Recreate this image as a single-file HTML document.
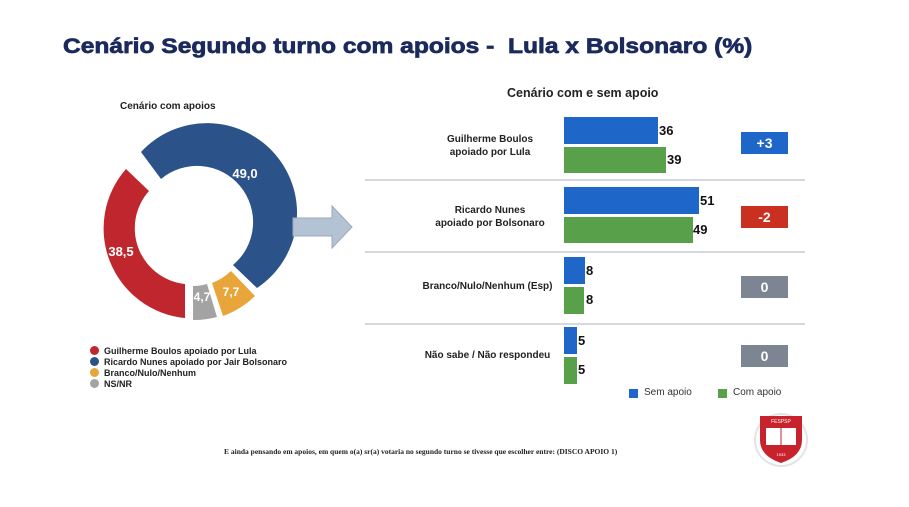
<!DOCTYPE html>
<html><head><meta charset="utf-8"><style>
body{margin:0;width:909px;height:507px;background:#fff;position:relative;overflow:hidden;font-family:"Liberation Sans",sans-serif}
.a{position:absolute}
.lab{position:absolute;font-size:10px;font-weight:bold;color:#222;text-align:center;line-height:13px}
.v{position:absolute;font-size:13px;font-weight:bold;color:#111}
.badge{position:absolute;left:741px;width:47px;height:22px;color:#fff;font-weight:bold;font-size:14px;text-align:center;line-height:22px}
.leg{position:absolute;left:90px;font-size:9px;font-weight:bold;color:#222}
.leg i{display:inline-block;width:9px;height:9px;border-radius:50%;vertical-align:-1px;margin-right:5px}
</style></head><body>
<div class="a" style="left:63px;top:35px;font-size:21px;font-weight:bold;color:#1b2a5c;-webkit-text-stroke:0.7px #1b2a5c;transform:scaleX(1.17);transform-origin:left;white-space:nowrap">Cenário Segundo turno com apoios -&nbsp; Lula x Bolsonaro (%)</div>
<div class="a" style="left:120px;top:101px;font-size:10px;font-weight:bold;color:#222">Cenário com apoios</div>
<svg class="a" style="left:0;top:0" width="909" height="507">
<g transform="translate(191,228)">
<path d="M-3,90 A90,90 0 0 1 -62,-59 L-39,-37 A56,56 0 0 0 -3,56Z" fill="#c0262d" transform="translate(-3,0)"/>
<path d="M-52,-73 A90,90 0 1 1 64,63 L40,40 A56,56 0 1 0 -32,-46Z" fill="#2b5289" transform="translate(2,-3)"/>
<path d="M62,66 A90,90 0 0 1 30,86 L19,53 A56,56 0 0 0 38,41Z" fill="#e8a63a" transform="translate(2,2)"/>
<path d="M26,87 A90,90 0 0 1 2,90 L2,56 A56,56 0 0 0 16,54Z" fill="#a3a3a3" transform="translate(0,2)"/>
<text x="54" y="-50" fill="#fff" font-size="13" font-weight="bold" text-anchor="middle">49,0</text>
<text x="-70" y="28" fill="#fff" font-size="13" font-weight="bold" text-anchor="middle">38,5</text>
<text x="40" y="68" fill="#fff" font-size="12" font-weight="bold" text-anchor="middle">7,7</text>
<text x="11" y="73" fill="#fff" font-size="12" font-weight="bold" text-anchor="middle">4,7</text>
</g>
<path d="M293,218 H332 V206 L352,227 L332,248 V236 H293Z" fill="#b4c3d3" stroke="#98a9bb"/>
<g stroke="#c8ccd2" stroke-width="1.5"><line x1="365" y1="180" x2="805" y2="180"/><line x1="365" y1="252" x2="805" y2="252"/><line x1="365" y1="324" x2="805" y2="324"/></g>
<g fill="#1f66c9"><rect x="564" y="117" width="94" height="27"/><rect x="564" y="187" width="135" height="27"/><rect x="564" y="257" width="21" height="27"/><rect x="564" y="327" width="13" height="27"/><rect x="629" y="389" width="9" height="9"/></g>
<g fill="#58a04a"><rect x="564" y="147" width="102" height="26"/><rect x="564" y="217" width="129" height="26"/><rect x="564" y="287" width="20" height="27"/><rect x="564" y="357" width="13" height="27"/><rect x="718" y="389" width="9" height="9"/></g>
</svg>
<div class="a" style="left:507px;top:86px;font-size:12.5px;font-weight:bold;color:#222">Cenário com e sem apoio</div>
<div class="lab" style="left:420px;top:133px;width:140px">Guilherme Boulos<br>apoiado por Lula</div>
<div class="lab" style="left:420px;top:204px;width:140px">Ricardo Nunes<br>apoiado por Bolsonaro</div>
<div class="lab" style="left:415px;top:280px;width:145px">Branco/Nulo/Nenhum (Esp)</div>
<div class="lab" style="left:415px;top:349px;width:145px">Não sabe / Não respondeu</div>
<div class="v" style="left:659px;top:123px">36</div><div class="v" style="left:667px;top:152px">39</div>
<div class="v" style="left:700px;top:193px">51</div><div class="v" style="left:693px;top:222px">49</div>
<div class="v" style="left:586px;top:263px">8</div><div class="v" style="left:586px;top:292px">8</div>
<div class="v" style="left:578px;top:333px">5</div><div class="v" style="left:578px;top:362px">5</div>
<div class="badge" style="top:132px;background:#1f66c9">+3</div>
<div class="badge" style="top:206px;background:#c9301f">-2</div>
<div class="badge" style="top:276px;background:#7c8591">0</div>
<div class="badge" style="top:345px;background:#7c8591">0</div>
<div class="a" style="left:644px;top:387px;font-size:10px;color:#333">Sem apoio</div>
<div class="a" style="left:733px;top:387px;font-size:10px;color:#333">Com apoio</div>
<div class="leg" style="top:346px"><i style="background:#c0262d"></i>Guilherme Boulos apoiado por Lula</div>
<div class="leg" style="top:357px"><i style="background:#2b5289"></i>Ricardo Nunes apoiado por Jair Bolsonaro</div>
<div class="leg" style="top:368px"><i style="background:#e8a63a"></i>Branco/Nulo/Nenhum</div>
<div class="leg" style="top:379px"><i style="background:#a3a3a3"></i>NS/NR</div>
<div class="a" style="left:224px;top:447px;font-family:'Liberation Serif',serif;font-size:7.5px;font-weight:bold;color:#222">E ainda pensando em apoios, em quem o(a) sr(a) votaria no segundo turno se tivesse que escolher entre: (DISCO APOIO 1)</div>
<svg class="a" style="left:752px;top:410px" width="58" height="58">
<circle cx="29" cy="30" r="26" fill="none" stroke="#e4e4e4" stroke-width="2"/>
<path d="M8,6 H50 V30 Q50,46 29,53 Q8,46 8,30Z" fill="#c8232c"/>
<rect x="14" y="18" width="30" height="17" fill="#fff"/>
<line x1="29" y1="18" x2="29" y2="35" stroke="#c8232c"/>
<text x="29" y="13" fill="#fff" font-size="5" text-anchor="middle">FESPSP</text>
<text x="29" y="46" fill="#fff" font-size="4" text-anchor="middle">1933</text>
</svg>
</body></html>
